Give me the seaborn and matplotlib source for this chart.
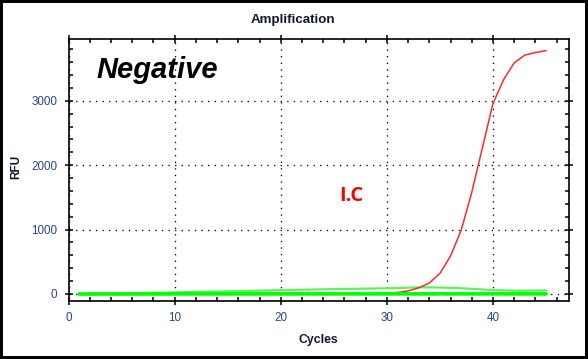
import numpy as np
import pandas as pd
import seaborn as sns
import matplotlib
matplotlib.use("Agg")
import matplotlib.pyplot as plt
from matplotlib.ticker import MultipleLocator
from matplotlib.patches import Rectangle

cycles = list(range(1, 46))

ic_red = [-5, -5, -5, -5, -5, -5, -5, -5, -5, -5,
          -5, -5, -5, -5, -5, -5, -5, -5, -5, -5,
          -5, -5, -5, -5, -5, -4, -3, -1, 6, 16,
          24, 48, 95, 170, 320, 590, 990, 1580, 2270, 2960,
          3330, 3590, 3710, 3750, 3780]

green_thin = [0, 3, 5, 8, 10, 13, 16, 19, 22, 25,
              28, 32, 35, 39, 42, 46, 49, 53, 56, 60,
              63, 66, 69, 72, 75, 78, 80, 83, 86, 88,
              92, 98, 104, 103, 100, 95, 88, 80, 70, 62,
              56, 52, 52, 54, 56]

green_thick = [0, 0, 0, 0, 0, 1, 1, 1, 1, 2,
               2, 2, 2, 2, 2, 2, 2, 2, 2, 2,
               2, 2, 2, 2, 2, 2, 2, 2, 2, 2,
               2, 2, 2, 2, 2, 2, 2, 2, 2, 2,
               2, 2, 2, 2, 2]

x_ticks = [0, 10, 20, 30, 40]
y_ticks = [0, 1000, 2000, 3000]

sns.set_style("white")
plt.rcParams['font.family'] = ['Liberation Sans', 'DejaVu Sans']

df = pd.DataFrame({
    "Cycle": cycles * 3,
    "RFU": ic_red + green_thin + green_thick,
    "Well": ["IC"] * 45 + ["Thin"] * 45 + ["Thick"] * 45,
})

fig = plt.figure(figsize=(5.88, 3.59), dpi=100)
ax = fig.add_axes([68.5 / 588, 1 - 301 / 359, (569 - 68.5) / 588, (301 - 39) / 359])

sns.lineplot(data=df[df.Well == "Thin"], x="Cycle", y="RFU", ax=ax,
             color="#5ef25e", linewidth=1.6, zorder=2)
sns.lineplot(data=df[df.Well == "IC"], x="Cycle", y="RFU", ax=ax,
             color="#ff2a2a", linewidth=1.1, zorder=2.5)
sns.lineplot(data=df[df.Well == "Thick"], x="Cycle", y="RFU", ax=ax,
             color="#00ff00", linewidth=2.6, zorder=3)

ax.set_xlim(0, 47.16)
ax.set_ylim(-109, 3960)
ax.set_xticks(x_ticks)
ax.set_yticks(y_ticks)
ax.xaxis.set_minor_locator(MultipleLocator(2))
ax.yaxis.set_minor_locator(MultipleLocator(200))

ax.grid(True, which="major", color="black", linewidth=0.95,
        linestyle=(0, (1, 4.0)))
for s in ax.spines.values():
    s.set_color("black")
    s.set_linewidth(1.2)
    s.set_visible(True)

label_color = "#27468a"
ax.tick_params(which="major", direction="inout", length=6, width=1.1,
               top=True, right=True, bottom=True, left=True,
               labelsize=8.4, labelcolor=label_color, pad=5, color="black")
ax.tick_params(which="minor", direction="in", length=3, width=1.1,
               top=True, right=True, bottom=True, left=True, color="black")

ax.set_xlabel("")
ax.set_ylabel("")

fig.text(318 / 588, 1 - 343 / 359, "Cycles", ha="center", va="baseline",
         fontsize=8.8, fontweight="bold", color="#101828")
fig.text(16.5 / 588, 1 - 167 / 359, "RFU", ha="center", va="center",
         rotation=90, fontsize=8.5, fontweight="bold", color="#101828")
fig.text(292.5 / 588, 1 - 23 / 359, "Amplification", ha="center", va="baseline",
         fontsize=9.6, fontweight="bold", color="#101828")

fig.text(96 / 588, 1 - 78.3 / 359, "Negative", ha="left", va="baseline",
         fontsize=21, fontweight="bold", fontstyle="italic", color="black")
fig.text(339 / 588, 1 - 201 / 359, "I.C", ha="left", va="baseline",
         fontsize=14.5, fontweight="bold", color="#ff0000",
         family=["Open Sans", "DejaVu Sans"])

fig.patches.append(Rectangle((0, 0), 1, 1, transform=fig.transFigure,
                             fill=False, edgecolor="black", linewidth=4.3,
                             zorder=10))

fig.savefig("out.png", dpi=100)
